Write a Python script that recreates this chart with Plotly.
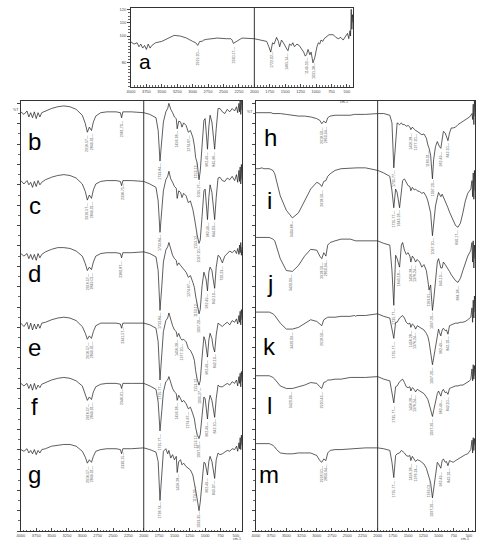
import numpy as np
import plotly.graph_objects as go

# common wavenumber grid (cm-1)
wavenumber = [4000, 3950, 3900, 3870, 3840, 3810, 3780, 3750, 3720, 3690, 3660, 3600,
              3500, 3400, 3300, 3200, 3100, 3000, 2950, 2918, 2885, 2850, 2820, 2780, 2700, 2600,
              2450, 2380, 2360, 2340, 2200, 2000, 1900,
              1800, 1765, 1735, 1705, 1680, 1640, 1610, 1590, 1560, 1530, 1500,
              1470, 1455, 1430, 1400, 1377, 1350, 1310, 1274, 1240, 1200, 1175, 1155,
              1130, 1100, 1080, 1050, 1020, 1000, 985, 962, 940, 920, 890, 870, 845, 820, 790, 760,
              720, 680, 640, 600, 560, 520, 490, 470, 450, 440, 430, 420, 410, 400]

# transmittance (%T) per sample
t_a = [95.6, 94, 95, 92, 94, 91, 93, 90, 94, 91, 93, 95,
       96, 98, 100.5, 100, 98.5, 96, 95, 93, 96, 96, 97, 97.5, 98, 98.5,
       98, 98, 97, 94.5, 98.5, 98, 97,
       96, 92, 88, 95, 94, 99, 96, 92, 97, 95, 92,
       90, 89, 94, 93, 95, 92, 94, 93, 91, 88, 85, 86,
       90, 86, 88, 80, 84, 89, 92, 95, 94, 97, 96, 98, 99, 100, 101, 101,
       101, 99, 98, 99, 97, 100, 102, 98, 104, 100, 120, 105, 116, 110]
t_b = [100, 97, 101, 94, 99, 93, 100, 92, 99, 94, 99, 101,
       104, 106, 107, 106, 103, 96, 86, 76, 82, 78, 88, 95, 99, 100,
       100, 99, 93, 100, 100, 99, 97,
       93, 78, 42, 68, 88, 100, 104, 110, 103, 99, 94,
       92, 80, 89, 88, 82, 87, 84, 76, 78, 70, 60, 46,
       40, 20, 30, 60, 90, 92, 80, 56, 82, 96, 88, 72, 56, 80, 104, 104,
       100, 98, 103, 100, 104, 101, 106, 99, 110, 100, 115, 97, 118, 102]
t_c = [100, 96, 100, 95, 98, 92, 99, 93, 100, 95, 98, 101,
       104, 106, 107, 106, 103, 96, 87, 77, 83, 79, 89, 96, 99, 100,
       100, 99, 94, 100, 100, 99, 96,
       92, 76, 39, 66, 88, 101, 105, 111, 102, 98, 93,
       91, 79, 88, 86, 80, 85, 82, 74, 76, 66, 56, 44,
       36, 26, 30, 58, 88, 90, 78, 54, 80, 95, 86, 70, 54, 80, 103, 104,
       100, 99, 103, 101, 105, 100, 107, 98, 112, 99, 116, 96, 119, 101]
t_d = [100, 97, 100, 94, 99, 93, 99, 92, 100, 95, 99, 102,
       105, 107, 107, 106, 103, 97, 88, 80, 84, 81, 90, 97, 100, 101,
       101, 100, 95, 101, 101, 102, 100,
       96, 80, 33, 62, 90, 104, 108, 113, 104, 98, 94,
       92, 86, 89, 86, 84, 82, 78, 72, 74, 66, 60, 50,
       40, 29, 34, 62, 78, 74, 70, 56, 78, 84, 80, 70, 59, 84, 98, 96,
       89, 97, 100, 103, 101, 104, 100, 106, 99, 110, 101, 113, 98, 108]
t_e = [100, 96, 101, 93, 100, 92, 99, 93, 99, 94, 100, 101,
       104, 106, 107, 106, 103, 96, 88, 81, 85, 82, 90, 97, 100, 100,
       100, 99, 94, 100, 100, 100, 98,
       94, 78, 33, 64, 90, 103, 106, 112, 104, 97, 92,
       90, 84, 88, 82, 80, 81, 78, 70, 68, 62, 56, 44,
       34, 27, 32, 60, 84, 80, 72, 60, 80, 88, 82, 72, 66, 86, 100, 98,
       96, 99, 101, 98, 103, 101, 105, 99, 109, 101, 114, 98, 116, 104]
t_f = [100, 97, 100, 94, 99, 92, 100, 93, 98, 95, 99, 101,
       104, 106, 107, 106, 103, 97, 88, 80, 84, 81, 90, 96, 99, 100,
       100, 99, 94, 100, 100, 100, 97,
       93, 78, 44, 68, 90, 102, 104, 108, 100, 94, 90,
       88, 80, 86, 82, 78, 80, 76, 70, 72, 64, 58, 48,
       40, 35, 40, 62, 84, 82, 74, 58, 78, 86, 80, 70, 60, 82, 98, 96,
       96, 98, 100, 98, 102, 100, 104, 97, 108, 100, 112, 96, 114, 102]
t_g = [100, 98, 101, 96, 99, 95, 100, 94, 99, 96, 100, 101,
       104, 105, 106, 106, 104, 98, 91, 84, 88, 85, 92, 98, 100, 101,
       101, 100, 95, 101, 101, 102, 100,
       97, 86, 40, 70, 98, 101, 95, 99, 90, 94, 88,
       92, 73, 86, 88, 82, 84, 80, 78, 76, 70, 62, 52,
       42, 28, 38, 64, 85, 84, 78, 70, 86, 92, 86, 76, 66, 88, 96, 94,
       95, 97, 99, 98, 101, 100, 104, 98, 108, 101, 114, 100, 117, 105]
t_h = [100, 100, 100, 100, 100, 100, 100, 100, 99, 99, 99, 99,
       98, 97, 96, 96, 95, 93, 91, 87, 90, 88, 94, 96, 97, 97,
       97, 98, 98, 98, 98, 99, 99,
       97, 88, 35, 70, 88, 86, 88, 86, 86, 84, 85,
       83, 80, 83, 80, 79, 78, 76, 74, 75, 70, 62, 58,
       50, 22, 45, 60, 66, 62, 60, 58, 70, 78, 76, 72, 67, 76, 82, 82,
       83, 86, 88, 89, 92, 94, 95, 97, 99, 92, 110, 86, 114, 96]
t_i = [100, 100, 101, 100, 100, 100, 100, 99, 98, 94, 86, 68,
       51, 42, 48, 62, 76, 84, 82, 79, 85, 86, 91, 94, 98, 100,
       101, 101, 101, 101, 101, 98, 95,
       91, 74, 54, 76, 72, 54, 76, 86, 88, 84, 80,
       79, 74, 78, 75, 76, 74, 73, 71, 72, 67, 62, 56,
       48, 21, 33, 56, 66, 72, 70, 67, 70, 67, 62, 59, 54, 49, 44, 39,
       33, 31, 36, 48, 62, 71, 74, 76, 86, 67, 95, 64, 98, 74]
t_j = [100, 100, 100, 100, 100, 100, 100, 99, 98, 96, 88, 75,
       61, 60, 67, 78, 86, 85, 78, 75, 82, 78, 91, 94, 96, 98,
       98, 96, 96, 96, 96, 96, 93,
       91, 61, 20, 79, 75, 65, 91, 94, 85, 80, 82,
       78, 71, 78, 75, 71, 74, 71, 65, 68, 61, 49, 38,
       44, 14, 26, 49, 71, 75, 71, 64, 64, 71, 68, 66, 64, 60, 56, 53,
       49, 47, 52, 61, 71, 78, 82, 85, 94, 71, 96, 64, 91, 75]
t_k = [100, 100, 100, 100, 100, 100, 100, 99, 98, 96, 93, 87,
       80, 80, 82, 87, 91, 89, 86, 84, 91, 93, 94, 94, 94, 95,
       95, 96, 95, 96, 96, 98, 95,
       93, 81, 69, 88, 88, 93, 95, 96, 93, 88, 86,
       87, 82, 86, 84, 80, 84, 82, 81, 79, 75, 71, 65,
       55, 38, 46, 61, 75, 80, 76, 72, 79, 81, 78, 79, 74, 84, 85, 86,
       87, 87, 88, 88, 89, 91, 93, 94, 105, 88, 114, 93, 119, 100]
t_l = [100, 100, 100, 100, 100, 100, 100, 99, 98, 96, 93, 88,
       85, 85, 87, 89, 92, 91, 87, 85, 92, 93, 95, 95, 96, 96,
       98, 98, 98, 98, 98, 99, 96,
       94, 82, 68, 87, 88, 93, 95, 96, 92, 87, 86,
       87, 82, 86, 84, 81, 84, 82, 81, 79, 75, 72, 67,
       61, 52, 59, 71, 79, 82, 80, 76, 82, 84, 80, 81, 78, 85, 86, 87,
       88, 88, 89, 89, 91, 92, 94, 96, 108, 94, 113, 96, 112, 100]
t_m = [100, 100, 100, 100, 100, 100, 100, 99, 98, 96, 93, 89,
       88, 88, 89, 89, 89, 86, 80, 78, 82, 80, 89, 92, 93, 93,
       94, 94, 94, 94, 95, 95, 94,
       92, 78, 60, 86, 88, 89, 92, 91, 89, 86, 85,
       86, 80, 85, 82, 79, 81, 80, 78, 76, 71, 64, 58,
       54, 36, 47, 66, 78, 76, 74, 71, 80, 82, 78, 79, 74, 80, 79, 78,
       80, 82, 84, 86, 87, 88, 92, 93, 104, 89, 107, 92, 106, 98]

# labelled bands per sample
peaks_a = [2919.20, 2330.17, 1722.02, 1465.14, 1149.32, 1031.38]
peaks_b = [2916.57, 2849.01, 2361.70, 1733.84, 1456.28, 1274.67, 1153.12, 1095.27, 962.49, 845.96]
peaks_c = [2916.57, 2849.01, 2336.75, 1733.84, 1153.12, 1097.20, 962.49, 844.03]
peaks_d = [2916.57, 2849.01, 2360.87, 1733.84, 1274.67, 1153.12, 1097.20, 962.49, 842.10, 720.23]
peaks_e = [2916.57, 2849.01, 2341.57, 1735.77, 1456.28, 1377.20, 1153.12, 1095.27, 962.49, 842.10]
peaks_f = [2916.57, 2849.01, 2346.01, 1735.77, 1456.28, 1274.67, 1153.12, 1097.20, 962.49, 842.10]
peaks_g = [2916.57, 2849.01, 2330.15, 1736.74, 1456.28, 1174.35, 1093.35, 962.49, 843.07]
peaks_h = [2918.50, 2850.94, 1735.77, 1456.28, 1377.20, 1163.01, 1097.20, 962.49, 842.10]
peaks_i = [3404.66, 2918.50, 1735.77, 1643.18, 1097.20, 690.17]
peaks_j = [3420.09, 2918.50, 2850.94, 1735.77, 1643.18, 1456.28, 1376.24, 1163.01, 1097.20, 945.13, 684.38]
peaks_k = [3420.09, 2918.50, 1735.77, 1456.28, 1376.24, 1097.20, 962.49, 842.10]
peaks_l = [3420.09, 2920.43, 1735.77, 1456.28, 1376.24, 1097.20, 962.49, 842.10]
peaks_m = [2918.50, 2850.94, 1735.77, 1456.28, 1376.24, 1163.01, 1097.20, 962.49, 842.10]

W, H = 482, 550
LINE = '#1a1a1a'
FONT = 'Liberation Sans'

# (letter, data, peaks, axis suffix, vertical offset, letter position in px)
spectra = [
    ('a', t_a, peaks_a, '', 0, (142, 61)),
    ('b', t_b, peaks_b, '2', 394, (31, 141)),
    ('c', t_c, peaks_c, '2', 313, (31, 205)),
    ('d', t_d, peaks_d, '2', 227, (31, 273)),
    ('e', t_e, peaks_e, '2', 145, (31, 347)),
    ('f', t_f, peaks_f, '2', 74, (31, 406)),
    ('g', t_g, peaks_g, '2', -4, (31, 474)),
    ('h', t_h, peaks_h, '3', 393, (269, 137)),
    ('i', t_i, peaks_i, '3', 327, (268, 200)),
    ('j', t_j, peaks_j, '3', 246, (268, 283)),
    ('k', t_k, peaks_k, '3', 158, (268, 346)),
    ('l', t_l, peaks_l, '3', 83, (268, 405)),
    ('m', t_m, peaks_m, '3', 3, (267, 474)),
]

fig = go.Figure()
wn_asc = wavenumber[::-1]
annotations = []
for name, t, peaks, ax, off, (lx, ly) in spectra:
    assert len(t) == len(wavenumber), name
    fig.add_trace(go.Scatter(x=wavenumber, y=[v + off for v in t], mode='lines',
                             line=dict(color=LINE, width=0.7),
                             xaxis='x' + ax, yaxis='y' + ax,
                             showlegend=False, hoverinfo='skip'))
    t_asc = t[::-1]
    for p in peaks:
        yv = float(np.interp(p, wn_asc, t_asc)) + off
        annotations.append(dict(x=p, y=yv, xref='x' + ax, yref='y' + ax,
                                text=f'{p:.2f}—', textangle=-90, showarrow=False,
                                xanchor='center', yanchor='top', yshift=-1,
                                font=dict(size=3.6, color='#555', family=FONT)))
    annotations.append(dict(x=lx / W, y=1 - ly / H, xref='paper', yref='paper',
                            text=name, showarrow=False, xanchor='center', yanchor='middle',
                            font=dict(size=24 if name != 'a' else 21, color='black', family=FONT)))

# small axis captions
for txt, px, py in [('%T', 7, 105), ('%T', 248, 107),
                    ('cm-1', 349, 97), ('cm-1', 235, 543), ('cm-1', 471, 543)]:
    annotations.append(dict(x=px / W, y=1 - py / H, xref='paper', yref='paper', text=txt,
                            showarrow=False, font=dict(size=3.6, color='#444', family=FONT)))

xcommon = dict(range=[4000, 400], tick0=0, dtick=250, tickformat='d',
               ticks='inside', ticklen=3, tickcolor='#444',
               minor=dict(dtick=50, ticks='inside', ticklen=1.5, tickcolor='#666'),
               tickfont=dict(size=4, color='#444', family=FONT),
               showline=True, mirror=True, linecolor='#333', linewidth=1,
               showgrid=False, zeroline=False)
ycommon = dict(ticks='outside', ticklen=3, tickcolor='#444',
               showline=True, mirror=True, linecolor='#333', linewidth=1,
               showgrid=False, zeroline=False,
               tickfont=dict(size=4, color='#444', family=FONT))

fig.update_layout(
    width=W, height=H, margin=dict(l=0, r=0, t=0, b=0),
    paper_bgcolor='white', plot_bgcolor='white',
    xaxis=dict(domain=[128 / W, 352 / W], anchor='y', **xcommon),
    yaxis=dict(domain=[1 - 86 / H, 1 - 7 / H], anchor='x', range=[62, 121],
               tickvals=[80, 100, 110, 120],
               minor=dict(dtick=2.5, ticks='outside', ticklen=1.5, tickcolor='#666'),
               **ycommon),
    xaxis2=dict(domain=[17 / W, 240 / W], anchor='y2', **xcommon),
    yaxis2=dict(domain=[1 - 531 / H, 1 - 100 / H], anchor='x2', range=[0, 507],
                dtick=24, showticklabels=False,
                minor=dict(dtick=12, ticks='outside', ticklen=1.5, tickcolor='#666'),
                **ycommon),
    xaxis3=dict(domain=[254 / W, 475 / W], anchor='y3', **xcommon),
    yaxis3=dict(domain=[1 - 531 / H, 1 - 100 / H], anchor='x3', range=[0, 507],
                dtick=24, showticklabels=False,
                minor=dict(dtick=12, ticks='outside', ticklen=1.5, tickcolor='#666'),
                **ycommon),
    annotations=annotations,
    shapes=[dict(type='line', x0=2000, x1=2000, y0=0, y1=1, xref='x' + ax, yref='y' + ax + ' domain',
                 line=dict(color='#333', width=1)) for ax in ['', '2', '3']],
)

# the page's default body margin would shift the figure by 8 px
fig.write_html("out.html", config={'displayModeBar': False},
               post_script="document.body.style.margin='0';document.body.style.overflow='hidden';")
